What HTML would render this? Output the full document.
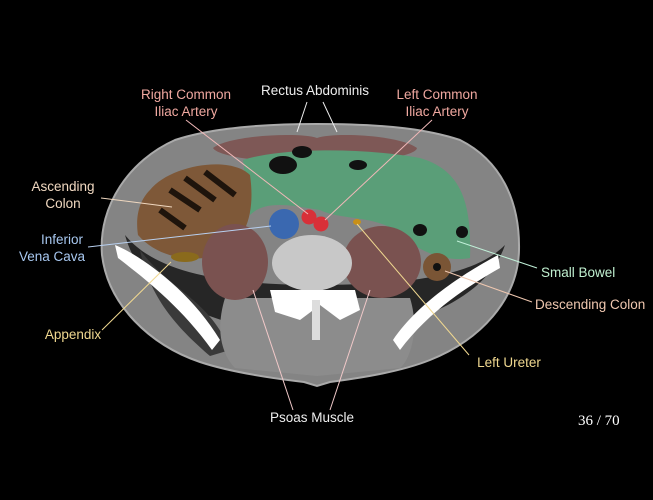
<!DOCTYPE html>
<html><head><style>
body{margin:0;background:#000;width:653px;height:500px;overflow:hidden;font-family:"Liberation Sans",sans-serif}
svg{position:absolute;left:0;top:0}
text{font-family:"Liberation Sans",sans-serif;font-size:13.5px}
</style></head><body>
<svg width="653" height="500" viewBox="0 0 653 500">
<!-- body -->
<path d="M317,124 C390,124 430,130 460,140 C500,160 520,200 519,250 C518,300 480,340 430,360 C400,372 360,378 330,382 L317,386 L304,382 C270,378 230,372 200,362 C150,345 108,305 102,255 C98,205 130,160 175,140 C205,130 250,124 317,124 Z" fill="#848484" stroke="#aaa" stroke-width="2"/>
<!-- dark fat inner -->
<path d="M125,235 C140,290 200,330 317,335 C430,330 490,290 505,245 C480,270 430,285 317,285 C200,285 150,265 125,235 Z" fill="#262626"/>
<path d="M140,250 C170,290 210,300 230,350 L210,356 C180,330 150,300 140,250 Z" fill="#3a3a3a"/>
<path d="M225,298 L410,298 C420,330 410,360 400,368 L317,376 L235,368 C222,355 215,330 225,298 Z" fill="#8c8c8c"/>
<!-- rectus -->
<path d="M213,148 C230,135 300,132 317,138 C335,132 400,135 417,148 C415,160 330,165 317,160 C300,165 220,160 213,148 Z" fill="#7e5856"/>
<!-- small bowel -->
<path d="M243,160 C280,148 360,147 420,158 C460,170 472,200 470,258 C450,262 420,255 395,230 C370,215 340,220 320,210 C290,205 265,200 250,215 Z" fill="#5a9e78"/>
<ellipse cx="283" cy="165" rx="14" ry="9" fill="#111"/><ellipse cx="302" cy="152" rx="10" ry="6" fill="#111"/>
<ellipse cx="358" cy="165" rx="9" ry="5" fill="#111"/><ellipse cx="420" cy="230" rx="7" ry="6" fill="#111"/>
<ellipse cx="462" cy="232" rx="6" ry="6" fill="#111"/>
<!-- ascending colon -->
<path d="M150,190 C170,165 230,155 250,175 C255,210 248,240 220,255 C195,262 160,260 138,235 C135,215 140,200 150,190 Z" fill="#7e5838"/>
<path d="M170,190 L200,210 M185,178 L215,200 M205,172 L235,195 M160,210 L185,228" stroke="#1e140c" stroke-width="6"/>
<!-- desc colon -->
<circle cx="437" cy="267" r="14" fill="#7a5535"/><circle cx="437" cy="267" r="4" fill="#111"/>
<!-- appendix -->
<ellipse cx="185" cy="257" rx="14" ry="5" fill="#8a6a1c"/>
<!-- psoas -->
<ellipse cx="235" cy="262" rx="33" ry="38" fill="#7a5250"/>
<ellipse cx="382" cy="262" rx="39" ry="36" fill="#7a5250"/>
<!-- vertebra -->
<ellipse cx="312" cy="263" rx="40" ry="28" fill="#c8c8c8"/>
<path d="M270,290 L355,290 L360,310 L340,320 L320,305 L300,320 L275,312 Z" fill="#fff"/>
<rect x="312" y="300" width="8" height="40" fill="#ddd"/>
<!-- iliac -->
<path d="M115,245 C140,255 190,290 220,340 L212,350 C180,305 140,275 118,258 Z" fill="#fff"/>
<path d="M498,255 C470,270 420,300 393,340 L400,350 C430,310 470,285 500,268 Z" fill="#fff"/>
<!-- vessels -->
<circle cx="284" cy="224" r="15" fill="#3a68b0"/>
<circle cx="309" cy="217" r="7.5" fill="#d83038"/>
<circle cx="321" cy="224" r="7.5" fill="#d83038"/>
<ellipse cx="357" cy="222" rx="4" ry="3" fill="#c89018"/>
<!-- leader lines -->
<g stroke-width="1">
<line x1="186" y1="120" x2="308" y2="214" stroke="#f0b8b8"/>
<line x1="432" y1="120" x2="325" y2="220" stroke="#f0b8b8"/>
<line x1="307" y1="102" x2="297" y2="132" stroke="#eee"/>
<line x1="323" y1="102" x2="337" y2="132" stroke="#eee"/>
<line x1="101" y1="198" x2="172" y2="207" stroke="#f0d8c0"/>
<line x1="88" y1="247" x2="271" y2="226" stroke="#b8d0f0"/>
<line x1="102" y1="330" x2="171" y2="262" stroke="#f0d890"/>
<line x1="537" y1="268" x2="457" y2="241" stroke="#c0f0d8"/>
<line x1="532" y1="302" x2="445" y2="271" stroke="#f0c8b0"/>
<line x1="469" y1="355" x2="357" y2="224" stroke="#f0d890"/>
<line x1="293" y1="410" x2="253" y2="290" stroke="#f0c8c8"/>
<line x1="330" y1="410" x2="370" y2="290" stroke="#f0c8c8"/>
</g>
<!-- labels -->
<g text-anchor="middle">
<text x="186" y="99" fill="#f0a8a0">Right Common</text>
<text x="186" y="116" fill="#f0a8a0">Iliac Artery</text>
<text x="315" y="95" fill="#eee">Rectus Abdominis</text>
<text x="437" y="99" fill="#f0a8a0">Left Common</text>
<text x="437" y="116" fill="#f0a8a0">Iliac Artery</text>
<text x="63" y="191" fill="#f0d8c0">Ascending</text>
<text x="63" y="208" fill="#f0d8c0">Colon</text>
<text x="62" y="244" fill="#a8c8f0">Inferior</text>
<text x="52" y="261" fill="#a8c8f0">Vena Cava</text>
<text x="73" y="339" fill="#f0d890">Appendix</text>
<text x="312" y="422" fill="#eee">Psoas Muscle</text>
<text x="509" y="367" fill="#f0d890">Left Ureter</text>
</g>
<text x="541" y="277" fill="#c0f0d0">Small Bowel</text>
<text x="535" y="309" fill="#f0c8b0">Descending Colon</text>
<text x="578" y="425" fill="#fff" style="font-family:'Liberation Serif',serif;font-size:15px">36 / 70</text>
</svg>
</body></html>
